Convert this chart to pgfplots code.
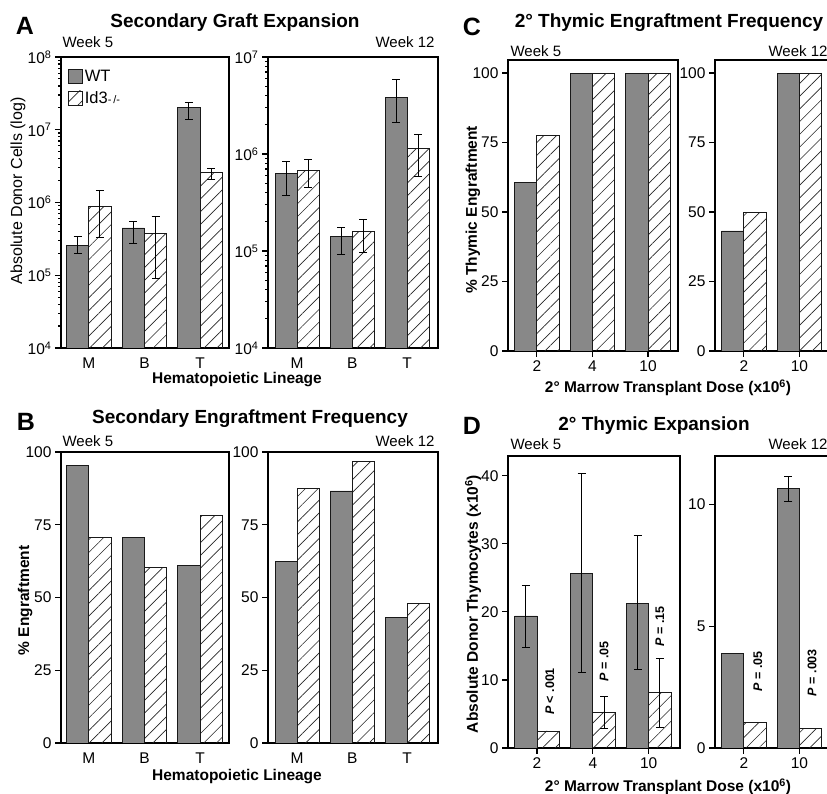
\documentclass[border=0pt]{standalone}
\usepackage{fontspec}
\setmainfont{Liberation Sans}
\usepackage{pgfplots}
\pgfplotsset{compat=1.18}
\usetikzlibrary{patterns.meta}
\definecolor{barg}{RGB}{136,136,136}
\pgfplotsset{
  panel/.style={
    scale only axis,
    axis line style={line width=1.6pt, black},
    tick align=outside, major tick length=6pt,
    tick style={line width=1.2pt, black},
    ytick pos=left, xtick pos=bottom,
    ticklabel style={font=\fontsize{15.5}{15.5}\selectfont},
    /pgf/number format/assume math mode=true,
    xtick={0,1,2},
    ylabel style={font=\bfseries\fontsize{15.5}{15.5}\selectfont, rotate=0},
  },
  wt/.style={ybar, bar width=0.4, bar shift=-0.2, fill=barg, draw=black!90, line width=0.8pt,
    legend image code/.code={\draw[##1, line width=0.8pt] (0pt,-7pt) rectangle (14pt,7pt);}},
  ko/.style={ybar, bar width=0.4, bar shift=0.2, draw=black!90, line width=0.8pt,
    pattern={Lines[angle=45,distance=9pt,line width=0.65pt]}, pattern color=black!85,
    legend image code/.code={\draw[##1, line width=0.8pt] (0pt,-7pt) rectangle (14pt,7pt);}},
  eb/.style={draw=none, mark=none, forget plot,
    error bars/.cd, y dir=both, y explicit,
    error bar style={line width=1pt, draw=black, solid},
    error mark options={rotate=90, draw=black, line width=1pt, mark size=4pt}},
}
\newcommand{\ttl}{\bfseries\fontsize{19}{19}\selectfont}
\newcommand{\lett}{\bfseries\fontsize{25}{25}\selectfont}
\newcommand{\wk}{\fontsize{15}{15}\selectfont}
\newcommand{\xl}{\bfseries\fontsize{15.5}{15.5}\selectfont}
\newcommand{\pv}{\bfseries\fontsize{12.5}{12.5}\selectfont}
\begin{document}
\begin{tikzpicture}[x=1pt,y=1pt]
\useasboundingbox (0,0) rectangle (827,794);

% ---------------- Panel A ----------------
\begin{axis}[panel, at={(61pt,446pt)}, anchor=south west, width=168pt, height=291pt,
  ymode=log, log origin y=infty, ymin=1e4, ymax=1e8, xmin=-0.5, xmax=2.52,
  ytick={1e4,1e5,1e6,1e7,1e8},
  yticklabels={10\textsuperscript{4},10\textsuperscript{5},10\textsuperscript{6},10\textsuperscript{7},10\textsuperscript{8}},
  xticklabels={M,B,T}, x tick style={draw=none},
  ylabel={Absolute Donor Cells (log)},
  ylabel style={font=\fontsize{16}{16}\selectfont, at={(axis description cs:-0.256,0.54)}, anchor=center},
  legend style={at={(rel axis cs:0.035,0.965)}, anchor=north west, draw=none, fill=none,
    font=\fontsize{16.5}{16.5}\selectfont, row sep=4pt, inner sep=1pt},
  legend cell align=left,
]
\addplot[wt] coordinates {(0,2.6e5) (1,4.46e5) (2,2.0e7)};
\addlegendentry{WT}
\addplot[ko] coordinates {(0,8.9e5) (1,3.8e5) (2,2.6e6)};
\addlegendentry{Id3{\fontsize{11}{11}\selectfont -\,/-}}
\addplot[eb] coordinates {(-0.2,2.6e5) += (0,0.76e5) -= (0,0.64e5)
  (0.8,4.46e5) += (0,1.1e5) -= (0,1.7e5) (1.8,2.0e7) += (0,0.4e7) -= (0,0.6e7)};
\addplot[eb] coordinates {(0.2,8.9e5) += (0,5.5e5) -= (0,5.6e5)
  (1.2,3.8e5) += (0,2.7e5) -= (0,2.9e5) (2.2,2.6e6) += (0,0.3e6) -= (0,0.5e6)};
\end{axis}

\begin{axis}[panel, at={(268pt,446pt)}, anchor=south west, width=170pt, height=291pt,
  ymode=log, log origin y=infty, ymin=1e4, ymax=1e7, xmin=-0.53, xmax=2.56,
  ytick={1e4,1e5,1e6,1e7},
  yticklabels={10\textsuperscript{4},10\textsuperscript{5},10\textsuperscript{6},10\textsuperscript{7}},
  xticklabels={M,B,T}, x tick style={draw=none},
]
\addplot[wt] coordinates {(0,6.3e5) (1,1.41e5) (2,3.86e6)};
\addplot[ko] coordinates {(0,6.8e5) (1,1.58e5) (2,1.14e6)};
\addplot[eb] coordinates {(-0.2,6.3e5) += (0,2.1e5) -= (0,2.6e5)
  (0.8,1.41e5) += (0,0.33e5) -= (0,0.49e5) (1.8,3.86e6) += (0,1.94e6) -= (0,1.76e6)};
\addplot[eb] coordinates {(0.2,6.8e5) += (0,2.0e5) -= (0,2.3e5)
  (1.2,1.58e5) += (0,0.52e5) -= (0,0.62e5) (2.2,1.14e6) += (0,0.46e6) -= (0,0.55e6)};
\end{axis}

\node[font=\lett] at (25,768) {A};
\node[font=\ttl] at (235,771) {Secondary Graft Expansion};
\node[font=\wk, anchor=west] at (59,752) {Week 5};
\node[font=\wk, anchor=east] at (438,752) {Week 12};
\node[font=\xl] at (237,414) {Hematopoietic Lineage};

% ---------------- Panel B ----------------
\begin{axis}[panel, at={(61pt,51pt)}, anchor=south west, width=168pt, height=291pt,
  ymin=0, ymax=100, xmin=-0.5, xmax=2.52, ytick={0,25,50,75,100},
  xticklabels={M,B,T}, x tick style={draw=none},
  ylabel={\% Engraftment},
  ylabel style={at={(axis description cs:-0.214,0.49)}, anchor=center},
]
\addplot[wt] coordinates {(0,95.5) (1,70.7) (2,61)};
\addplot[ko] coordinates {(0,70.7) (1,60.3) (2,78.3)};
\end{axis}

\begin{axis}[panel, at={(268pt,51pt)}, anchor=south west, width=170pt, height=291pt,
  ymin=0, ymax=100, xmin=-0.53, xmax=2.56, ytick={0,25,50,75,100},
  xticklabels={M,B,T}, x tick style={draw=none},
]
\addplot[wt] coordinates {(0,62.4) (1,86.6) (2,43.1)};
\addplot[ko] coordinates {(0,87.6) (1,96.6) (2,48)};
\end{axis}

\node[font=\lett] at (26,372) {B};
\node[font=\ttl] at (250,375) {Secondary Engraftment Frequency};
\node[font=\wk, anchor=west] at (59,353) {Week 5};
\node[font=\wk, anchor=east] at (438,353) {Week 12};
\node[font=\xl] at (237,17) {Hematopoietic Lineage};

% ---------------- Panel C ----------------
\begin{axis}[panel, at={(508pt,443pt)}, anchor=south west, width=170pt, height=291pt,
  ymin=0, ymax=104.7, xmin=-0.52, xmax=2.54, ytick={0,25,50,75,100},
  xticklabels={2,4,10},
  ylabel={\% Thymic Engraftment},
  ylabel style={at={(axis description cs:-0.206,0.485)}, anchor=center},
]
\addplot[wt] coordinates {(0,60.8) (1,100) (2,100)};
\addplot[ko] coordinates {(0,77.7) (1,100) (2,100)};
\end{axis}

\begin{axis}[panel, at={(715pt,443pt)}, anchor=south west, width=117pt, height=291pt,
  ymin=0, ymax=104.7, xmin=-0.52, xmax=1.588, ytick={0,25,50,75,100},
  xtick={0,1}, xticklabels={2,10},
]
\addplot[wt] coordinates {(0,43.2) (1,100)};
\addplot[ko] coordinates {(0,50) (1,100)};
\end{axis}

\node[font=\lett] at (472,767) {C};
\node[font=\ttl] at (669,771) {2° Thymic Engraftment Frequency};
\node[font=\wk, anchor=west] at (507,743) {Week 5};
\node[font=\wk, anchor=east] at (831,743) {Week 12};
\node[font=\xl] at (668,406) {2° Marrow Transplant Dose (x10\textsuperscript{6})};

% ---------------- Panel D ----------------
\begin{axis}[panel, at={(508pt,46pt)}, anchor=south west, width=172pt, height=292pt,
  ymin=0, ymax=42.9, xmin=-0.52, xmax=2.56, ytick={0,10,20,30,40},
  xticklabels={2,4,10},
  ylabel={Absolute Donor Thymocytes (x10\textsuperscript{6})},
  ylabel style={at={(axis description cs:-0.203,0.493)}, anchor=center},
]
\addplot[wt] coordinates {(0,19.4) (1,25.6) (2,21.2)};
\addplot[ko] coordinates {(0,2.5) (1,5.3) (2,8.1)};
\addplot[eb] coordinates {(-0.2,19.4) += (0,4.4) -= (0,4.6)
  (0.8,25.6) += (0,14.7) -= (0,14.5) (1.8,21.2) += (0,10.0) -= (0,9.7)};
\addplot[eb] coordinates {(1.2,5.3) += (0,2.2) -= (0,2.4) (2.2,8.1) += (0,5.1) -= (0,5.1)};
\node[font=\pv, rotate=90] at (axis cs:0.23,8.3) {\textit{P} < .001};
\node[font=\pv, rotate=90] at (axis cs:1.2,12.7) {\textit{P} = .05};
\node[font=\pv, rotate=90] at (axis cs:2.2,17.9) {\textit{P} = .15};
\end{axis}

\begin{axis}[panel, at={(715pt,46pt)}, anchor=south west, width=117pt, height=292pt,
  ymin=0, ymax=12, xmin=-0.52, xmax=1.588, ytick={0,5,10},
  xtick={0,1}, xticklabels={2,10},
]
\addplot[wt] coordinates {(0,3.9) (1,10.66)};
\addplot[ko] coordinates {(0,1.06) (1,0.82)};
\addplot[eb] coordinates {(0.8,10.66) += (0,0.51) -= (0,0.51)};
\node[font=\pv, rotate=90] at (axis cs:0.25,3.14) {\textit{P} = .05};
\node[font=\pv, rotate=90] at (axis cs:1.23,3.1) {\textit{P} = .003};
\end{axis}

\node[font=\lett] at (472,368) {D};
\node[font=\ttl] at (654,368) {2° Thymic Expansion};
\node[font=\wk, anchor=west] at (507,350) {Week 5};
\node[font=\wk, anchor=east] at (831,350) {Week 12};
\node[font=\xl] at (668,7) {2° Marrow Transplant Dose (x10\textsuperscript{6})};
\end{tikzpicture}
\end{document}
